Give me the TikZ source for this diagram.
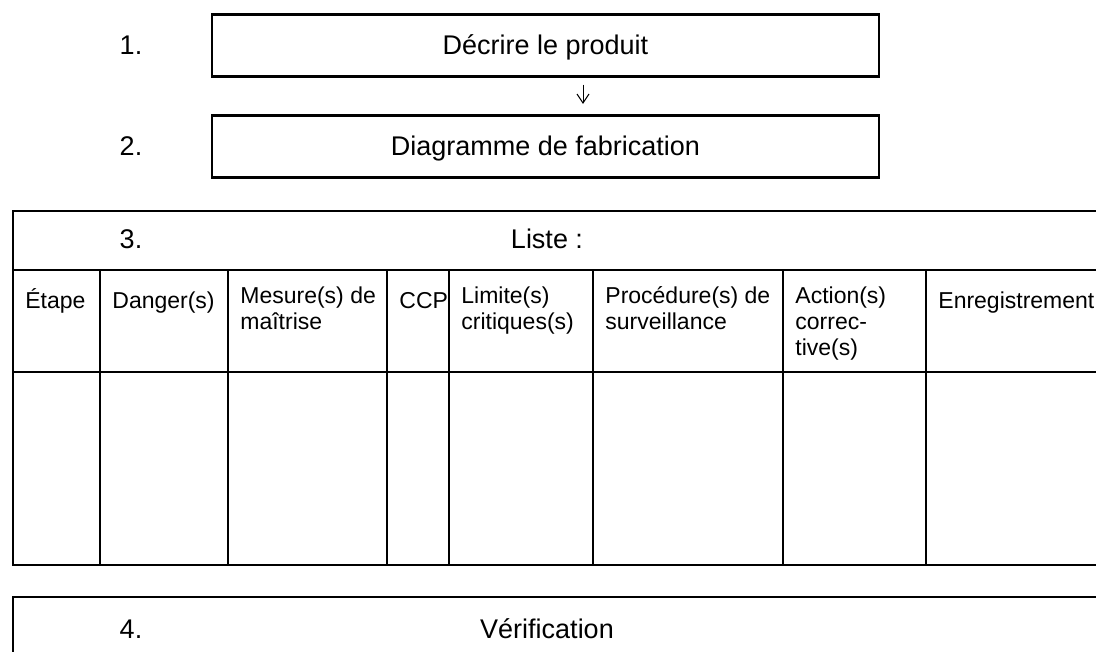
\documentclass[tikz,border=0pt]{standalone}
\usepackage{fontspec}
\setmainfont{Liberation Sans}
\usepackage{tikz}
\usetikzlibrary{arrows.meta}
\tikzstyle{boite}=[draw,line width=1.1pt,minimum width=333.5pt,minimum height=31pt,inner sep=0pt,text height=9.5pt,text depth=0pt,font=\fontsize{13.5}{16}\selectfont]
\tikzstyle{titre}=[anchor=base,inner sep=0pt,font=\fontsize{13.5}{16}\selectfont]
\tikzstyle{entete}=[anchor=north west,inner sep=0pt,align=left,font=\fontsize{11.5}{13}\selectfont,execute at begin node={\rule{0pt}{11pt}}]
\tikzstyle{trait}=[draw,line width=1.1pt]
\tikzstyle{fleche}=[draw,line width=0.5pt,-{Straight Barb[length=4.5pt,width=6pt]}]

\begin{document}
\begin{tikzpicture}[x=0.5pt,y=-0.5pt]
    \useasboundingbox (0,0) rectangle (1096,652);
    \clip (0,0) rectangle (1096,652);

    % Steps 1 and 2
    \node[boite] (d1) at (545.5,45.5) {Décrire le produit};
    \node[boite] (d2) at (545.5,146.5) {Diagramme de fabrication};
    \node[titre] (n1) at (131,55) {1.};
    \node[titre] (n2) at (131,156) {2.};
    \path[fleche,shorten <=3.5pt,shorten >=5.25pt] ([xshift=18.75pt]d1.south) -- ([xshift=18.75pt]d2.north);

    % Table
    \path[trait] (13,211) rectangle (1110,565);
    \foreach \y in {270,372}
        \path[trait] (13,\y) -- (1110,\y);
    \foreach \x in {100,228,387,449,593,783,926}
        \path[trait] (\x,270) -- (\x,565);
    \node[titre] (n3) at (131,249) {3.};
    \node[titre] (liste) at (547,249) {Liste :};

    % Column headers (first baseline at 308)
    \foreach \x/\name/\txt in {13/etape/{Étape}, 100/danger/{Danger(s)},
                               228/mesure/{Mesure(s) de\\maîtrise}, 387/ccp/{CCP},
                               449/limite/{Limite(s)\\critiques(s)},
                               593/proc/{Procédure(s) de\\surveillance},
                               783/action/{Action(s)\\correc-\\tive(s)},
                               926/enreg/{Enregistrement}}
        \node[entete] (\name) at (\x+12,286) {\txt};

    % Step 4
    \path[trait] (13,597) rectangle (1110,660);
    \node[titre] (n4) at (131,638) {4.};
    \node[titre] (verif) at (547,638) {Vérification};

\end{tikzpicture}
\end{document}
